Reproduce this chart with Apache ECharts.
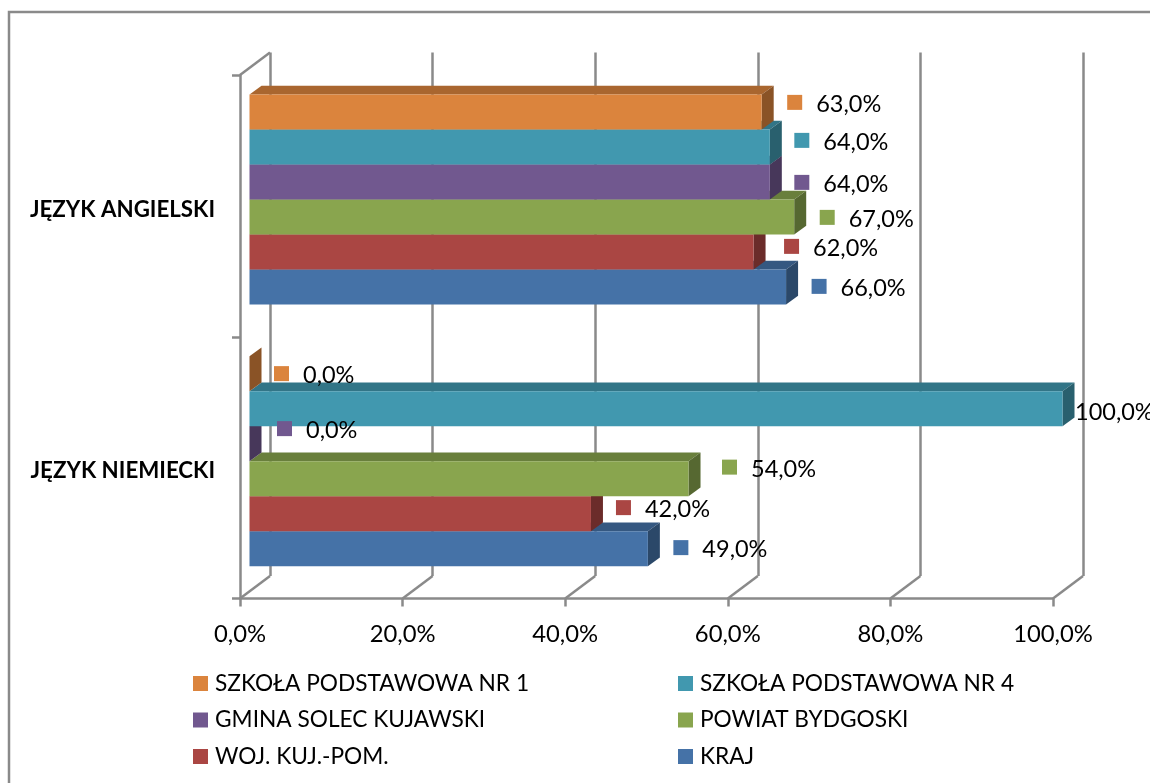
<!DOCTYPE html>
<html>
<head>
<meta charset="utf-8">
<style>html,body{margin:0;padding:0;background:#fff}#c{width:1150px;height:783px}</style>
<script src="https://cdn.jsdelivr.net/npm/echarts@6/dist/echarts.min.js"></script>
</head>
<body>
<div id="c"></div>
<script>
var categories = ['JĘZYK ANGIELSKI', 'JĘZYK NIEMIECKI'];
var xTicks = [0, 20, 40, 60, 80, 100];
var szkola1 = [63, 0];
var szkola4 = [64, 100];
var gmina = [64, 0];
var powiat = [67, 54];
var wojewodztwo = [62, 42];
var kraj = [66, 49];

var seriesDefs = [
  {name: 'KRAJ', values: kraj, color: '#4572A7', nudge: [[25.5, -0.5], [25.5, -1]]},
  {name: 'WOJ. KUJ.-POM.', values: wojewodztwo, color: '#AA4643', nudge: [[30.5, -5.5], [25, -6]]},
  {name: 'POWIAT BYDGOSKI', values: powiat, color: '#89A54E', nudge: [[25.5, 0.5], [33.5, -11.5]]},
  {name: 'GMINA SOLEC KUJAWSKI', values: gmina, color: '#71588F', nudge: [[24.5, 0.5], [27.5, -15]]},
  {name: 'SZKOŁA PODSTAWOWA NR 4', values: szkola4, color: '#4198AF', nudge: [[24.5, -6.5], [-16.5, 2]]},
  {name: 'SZKOŁA PODSTAWOWA NR 1', values: szkola1, color: '#DB843D', nudge: [[25.5, -9.5], [24.5, 0]]}
];

var GREY = '#8a8a8a';
var FONT = 'Lato';
var WALL = [30, -22.5];      // depth of the chart box
var BAR_SHIFT = [9.5, -6.5]; // bars stand inside the box
var DEPTH = [12, -8.7];      // depth of each bar
var BAR_RATIO = 35 / 261.75; // bar thickness per category band

function shade(hex, f) {
  var n = parseInt(hex.slice(1), 16);
  var r = Math.round((n >> 16) * f), g = Math.round(((n >> 8) & 255) * f), b = Math.round((n & 255) * f);
  return 'rgb(' + r + ',' + g + ',' + b + ')';
}
function pct(v) { return v.toFixed(1).replace('.', ',') + '%'; }

function barSeries(def, order) {
  return {
    name: def.name,
    type: 'custom',
    xAxisIndex: 0,
    yAxisIndex: 0,
    z: 3,
    clip: false,
    itemStyle: {color: def.color},
    encode: {x: 0, y: 1},
    data: def.values.map(function (v, i) { return [v, i]; }),
    renderItem: function (params, api) {
      var v = api.value(0), idx = api.value(1);
      var h = api.size([0, 1])[1] * BAR_RATIO;
      var zero = api.coord([0, idx]), end = api.coord([v, idx]);
      var x0 = zero[0] + BAR_SHIFT[0], x1 = end[0] + BAR_SHIFT[0];
      // bars are stacked around the band centre; blue lowest, orange highest
      var cy = zero[1] + BAR_SHIFT[1] + (2.5 - order) * h;
      var t = cy - h / 2, b = cy + h / 2;
      var dx = DEPTH[0], dy = DEPTH[1];
      var nudge = def.nudge[idx];
      var keyX = x1 + nudge[0], keyY = cy + nudge[1];
      var children = [
        {type: 'polygon', shape: {points: [[x0, t], [x0 + dx, t + dy], [x1 + dx, t + dy], [x1, t]]},
         style: {fill: shade(def.color, 0.77)}},
        {type: 'polygon', shape: {points: [[x1, t], [x1 + dx, t + dy], [x1 + dx, b + dy], [x1, b]]},
         style: {fill: shade(def.color, 0.63)}},
        {type: 'rect', shape: {x: x0, y: t, width: x1 - x0, height: h}, style: {fill: def.color}}
      ];
      if (v < 100) {
        children.push({type: 'rect', z2: 50, shape: {x: keyX, y: keyY - 7.5, width: 15, height: 15}, style: {fill: def.color}});
      }
      children.push({
        type: 'text', z2: 60,
        style: {x: keyX + 29, y: keyY + 2, text: pct(v), fill: '#000', font: '23.5px ' + FONT, textAlign: 'left', textVerticalAlign: 'middle'}
      });
      return {type: 'group', children: children};
    }
  };
}

var wallSeries = {
  type: 'custom',
  xAxisIndex: 0,
  yAxisIndex: 0,
  z: 1,
  silent: true,
  clip: false,
  data: xTicks.map(function (t) { return [t, 0]; }),
  renderItem: function (params, api) {
    var t = api.value(0);
    var x = api.coord([t, 0])[0];
    var cs = params.coordSys;
    var yb = cs.y + cs.height;
    var style = {stroke: GREY, lineWidth: 2.5, fill: null};
    var children = [{type: 'line', shape: {x1: x, y1: yb, x2: x + WALL[0], y2: yb + WALL[1]}, style: style}];
    if (t === 0) {
      children.push({type: 'line', shape: {x1: x, y1: cs.y, x2: x + WALL[0], y2: cs.y + WALL[1]}, style: style});
    }
    return {type: 'group', children: children};
  }
};

function legend(names, left) {
  return {
    orient: 'vertical', left: left, top: 667, data: names, icon: 'rect',
    itemWidth: 15, itemHeight: 15, itemGap: 13.5,
    selectedMode: false,
    textStyle: {fontFamily: FONT, fontSize: 22.7, color: '#000', padding: [0, 0, 0, 2], lineHeight: 23}
  };
}

var chart = echarts.init(document.getElementById('c'), null, {renderer: 'canvas'});
chart.setOption({
  animation: false,
  backgroundColor: '#fff',
  graphic: [{type: 'rect', silent: true, z: 0,
    shape: {x: 9, y: 12, width: 1300, height: 900},
    style: {fill: null, stroke: GREY, lineWidth: 2.5}}],
  grid: [
    {left: 240, width: 813, top: 75, height: 523.5},
    {left: 270, width: 813, top: 52.5, height: 523.5}
  ],
  xAxis: [
    {type: 'value', gridIndex: 0, min: 0, max: 100, interval: 20,
     axisLine: {show: true, lineStyle: {color: GREY, width: 2.5}},
     axisTick: {show: true, length: 8, lineStyle: {color: GREY, width: 2.5}},
     splitLine: {show: false},
     axisLabel: {margin: 24, color: '#000', fontFamily: FONT, fontSize: 23.8, formatter: pct}},
    {type: 'value', gridIndex: 1, min: 0, max: 100, interval: 20,
     axisLine: {show: false}, axisTick: {show: false}, axisLabel: {show: false},
     splitLine: {show: true, lineStyle: {color: GREY, width: 2.5, type: 'solid'}}}
  ],
  yAxis: [
    {type: 'category', gridIndex: 0, inverse: true, data: categories,
     axisLine: {show: true, onZero: false, lineStyle: {color: GREY, width: 2.5}},
     axisTick: {show: true, length: 8, lineStyle: {color: GREY, width: 2.5}},
     axisLabel: {margin: 25, formatter: function (s) { return '{a|' + s + '}'; },
       rich: {a: {color: '#000', fontFamily: FONT, fontSize: 22.3, fontWeight: 'bold', padding: [7, 0, 0, 0]}}}},
    {type: 'category', gridIndex: 1, inverse: true, data: categories, show: false}
  ],
  legend: [
    legend(['SZKOŁA PODSTAWOWA NR 1', 'GMINA SOLEC KUJAWSKI', 'WOJ. KUJ.-POM.'], 188),
    legend(['SZKOŁA PODSTAWOWA NR 4', 'POWIAT BYDGOSKI', 'KRAJ'], 673)
  ],
  tooltip: {show: false},
  series: [wallSeries].concat(seriesDefs.map(barSeries))
});
</script>
</body>
</html>
